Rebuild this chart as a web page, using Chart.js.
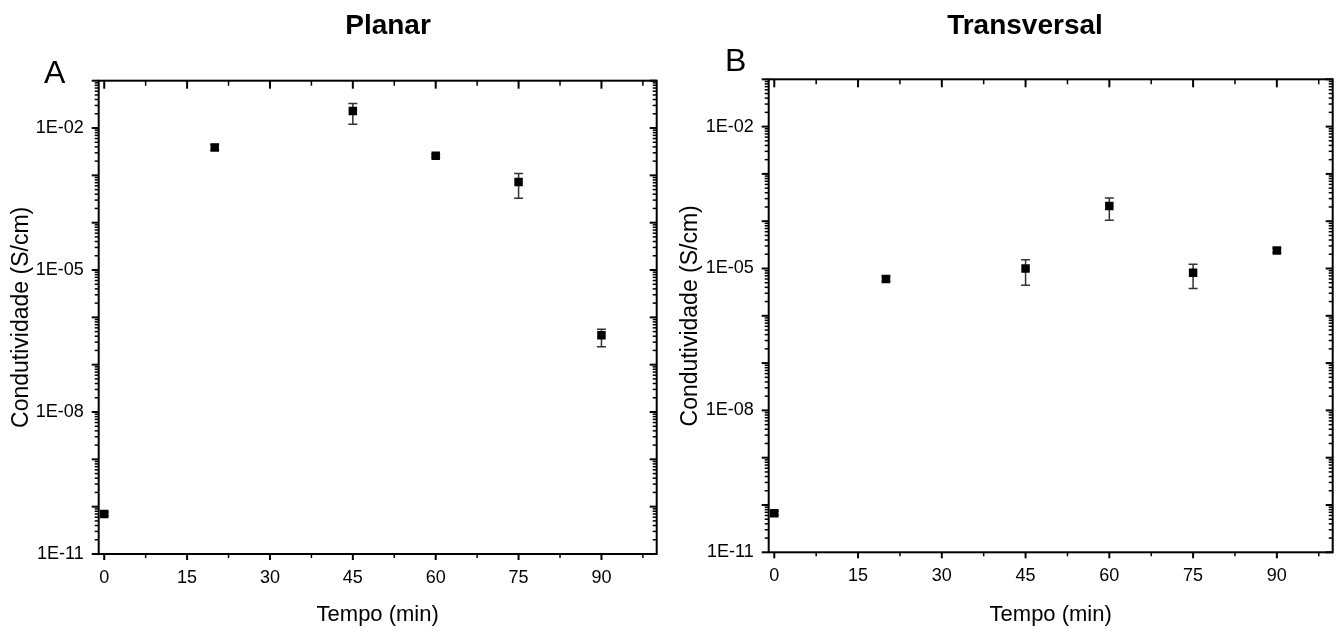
<!DOCTYPE html>
<html>
<head>
<meta charset="utf-8">
<title>Condutividade</title>
<script src="https://cdn.jsdelivr.net/npm/chart.js@4.4.1/dist/chart.umd.min.js"></script>
<style>
    body { margin: 0; background: #fff; }
    #wrap { position: relative; width: 1339px; height: 634px; }
    canvas { position: absolute; top: 0; }
    #planar-chart { left: 0; }
    #transversal-chart { left: 669px; }
</style>
</head>
<body>
<div id="wrap">
    <canvas id="planar-chart" width="669" height="634"></canvas>
    <canvas id="transversal-chart" width="670" height="634"></canvas>
</div>
<script>
// sampling times (min)
const tempo = [0, 20, 45, 60, 75, 90];

// conductivity (S/cm) with lower / upper error limits
const planar     = [7.0e-11, 3.9e-3, 2.3e-2, 2.6e-3, 7.2e-4, 4.2e-7];
const planarLo   = [6.4e-11, 3.4e-3, 1.2e-2, 2.4e-3, 3.3e-4, 2.4e-7];
const planarHi   = [7.6e-11, 4.5e-3, 3.3e-2, 2.8e-3, 1.1e-3, 5.6e-7];

const transversal   = [6.7e-11, 6.0e-6, 1.0e-5, 2.1e-4, 8.1e-6, 2.4e-5];
const transversalLo = [6.1e-11, 5.3e-6, 4.4e-6, 1.05e-4, 3.8e-6, 2.15e-5];
const transversalHi = [7.4e-11, 6.8e-6, 1.53e-5, 3.1e-4, 1.23e-5, 2.7e-5];

const xTicks = [0, 15, 30, 45, 60, 75, 90];
const yTicks = [1e-11, 1e-8, 1e-5, 1e-2];
const yTickLabels = ['1E-11', '1E-08', '1E-05', '1E-02'];

const FONT = '"Liberation Sans", Arial, sans-serif';

// vertical error bars with caps, drawn before the markers
function errorBars(lo, hi){
    return {
        id: 'errorBars',
        beforeDatasetsDraw(chart){
            const { ctx, scales: { x, y } } = chart;
            ctx.save();
            ctx.strokeStyle = '#333';
            ctx.lineWidth = 1.5;
            tempo.forEach((t, i) => {
                const px = x.getPixelForValue(t);
                const top = y.getPixelForValue(hi[i]);
                const bot = y.getPixelForValue(lo[i]);
                ctx.beginPath();
                ctx.moveTo(px, top); ctx.lineTo(px, bot);
                ctx.moveTo(px - 4.5, top); ctx.lineTo(px + 4.5, top);
                ctx.moveTo(px - 4.5, bot); ctx.lineTo(px + 4.5, bot);
                ctx.stroke();
            });
            ctx.restore();
        }
    };
}

// box frame with major/minor ticks (out on left/bottom, in on right/top)
const frame = {
    id: 'frame',
    afterDraw(chart){
        const { ctx, chartArea: a, scales: { x, y } } = chart;
        ctx.save();
        ctx.strokeStyle = '#000';
        const line = (x1, y1, x2, y2, w) => {
            ctx.lineWidth = w;
            ctx.beginPath();
            ctx.moveTo(x1, y1);
            ctx.lineTo(x2, y2);
            ctx.stroke();
        };
        for (let i = 0; i <= 13; i++) {
            const major = i % 2 === 0;
            const px = x.getPixelForValue(i * 7.5);
            line(px, a.bottom, px, a.bottom + (major ? 6 : 4), major ? 2 : 1.5);
            line(px, a.top, px, a.top + (major ? 8 : 5), major ? 2 : 1.5);
        }
        for (let e = -11; e <= -1; e++) {
            for (let k = 1; k < 10; k++) {
                const v = k * Math.pow(10, e);
                if (v > y.max * 1.0001) break;
                const major = k === 1;
                const py = y.getPixelForValue(v);
                line(a.left, py, a.left - (major ? 7 : 4), py, major ? 2 : 1.5);
                line(a.right, py, a.right - (major ? 7 : 4), py, major ? 2 : 1.5);
            }
        }
        ctx.lineWidth = 2;
        ctx.strokeRect(a.left, a.top, a.width, a.height);
        ctx.restore();
    }
};

// panel heading and letter
function headings(title, titleX, letter, letterX, letterY){
    return {
        id: 'headings',
        afterDraw(chart){
            const ctx = chart.ctx;
            ctx.save();
            ctx.fillStyle = '#000';
            ctx.textBaseline = 'alphabetic';
            ctx.textAlign = 'center';
            ctx.font = 'bold 28px ' + FONT;
            ctx.fillText(title, titleX, 34);
            ctx.textAlign = 'left';
            ctx.font = '32px ' + FONT;
            ctx.fillText(letter, letterX, letterY);
            ctx.restore();
        }
    };
}

function makeChart(canvas, values, lo, hi, box, heading){
    return new Chart(canvas.getContext('2d'), {
        type: 'scatter',
        data: {
            datasets: [{
                data: tempo.map((t, i) => ({ x: t, y: values[i] })),
                pointStyle: 'rect',
                pointRadius: 6,
                pointBorderWidth: 0,
                backgroundColor: '#000',
                borderColor: '#000',
                showLine: false
            }]
        },
        options: {
            responsive: false,
            animation: false,
            layout: { padding: { top: box.top, right: box.right, left: 0, bottom: 0 } },
            plugins: {
                legend: { display: false },
                tooltip: { enabled: false }
            },
            scales: {
                x: {
                    type: 'linear',
                    min: -1,
                    max: 100,
                    afterBuildTicks: s => { s.ticks = xTicks.map(v => ({ value: v })); },
                    afterFit: s => { s.height = box.xHeight; },
                    grid: { display: false, drawTicks: false },
                    border: { display: false },
                    ticks: { padding: 13, color: '#000', font: { family: FONT, size: 18 } },
                    title: {
                        display: true, text: 'Tempo (min)', color: '#000',
                        font: { family: FONT, size: 22 }, padding: { top: 0, bottom: 6 }
                    }
                },
                y: {
                    type: 'logarithmic',
                    min: 1e-11,
                    max: 1e-1,
                    afterBuildTicks: s => { s.ticks = yTicks.map(v => ({ value: v })); },
                    afterFit: s => { s.width = box.yWidth; },
                    grid: { display: false, drawTicks: false },
                    border: { display: false },
                    ticks: {
                        padding: 15, color: '#000', font: { family: FONT, size: 18 },
                        callback: (v, i) => yTickLabels[i]
                    },
                    title: {
                        display: true, text: 'Condutividade (S/cm)', color: '#000',
                        font: { family: FONT, size: 23 }, padding: { top: 8, bottom: 0 }
                    }
                }
            }
        },
        plugins: [errorBars(lo, hi), frame, heading]
    });
}

makeChart(document.querySelector('#planar-chart'), planar, planarLo, planarHi,
    { top: 80.7, right: 12.3, yWidth: 98.7, xHeight: 80 },
    headings('Planar', 388, 'A', 44, 83));

makeChart(document.querySelector('#transversal-chart'), transversal, transversalLo, transversalHi,
    { top: 79.3, right: 6.3, yWidth: 99.7, xHeight: 81.7 },
    headings('Transversal', 356, 'B', 56, 71));
</script>
</body>
</html>
